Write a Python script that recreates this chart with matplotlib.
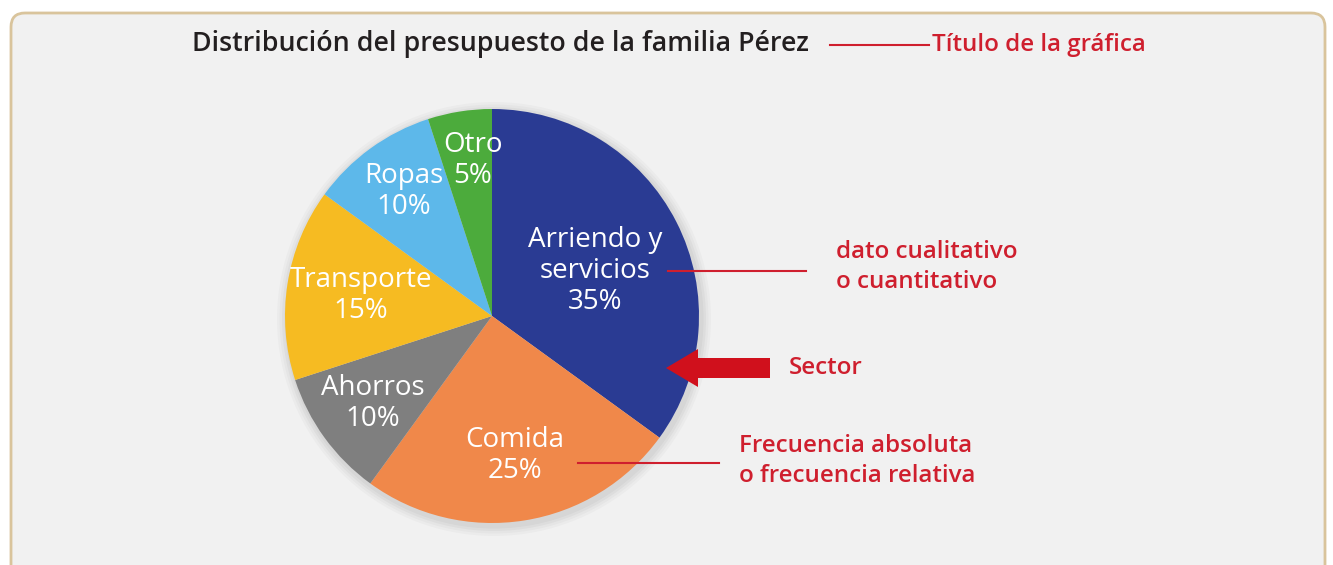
import matplotlib.pyplot as plt
from matplotlib.patches import FancyBboxPatch, FancyArrow, Circle

# presupuesto familiar (porcentajes)
categorias = ["Arriendo y\nservicios", "Comida", "Ahorros",
              "Transporte", "Ropas", "Otro"]
porcentajes = [35, 25, 10, 15, 10, 5]
colores = ["#2a3b93", "#f0884a", "#7f7f7f",
           "#f6bb22", "#5db8ea", "#4cab3c"]

titulo = "Distribución del presupuesto de la familia Pérez"

W, H = 1333, 565

plt.rcParams["font.family"] = ["Open Sans", "DejaVu Sans"]

fig = plt.figure(figsize=(W / 100, H / 100), dpi=100)
fig.patch.set_facecolor("white")
ax = fig.add_axes([0, 0, 1, 1])


def yy(y):
    # image-style y (top down) to axes y
    return H - y


def lines(x, y, text, step, **kw):
    # stacked lines with a fixed pixel step
    for i, t in enumerate(text.split("\n")):
        ax.text(x, yy(y + i * step), t, **kw)


# background panel
panel = FancyBboxPatch(
    (11, yy(600)),
    1314,
    600 - 13,
    boxstyle="round,pad=0,rounding_size=14",
    facecolor="#f1f1f1",
    edgecolor="#d9c49c",
    linewidth=2,
    zorder=0
)
ax.add_patch(panel)

cx, cy, r = 492, yy(316), 207

# soft shadow behind the pie
for i, a in enumerate([0.025, 0.025, 0.03, 0.03]):
    ax.add_patch(Circle((cx + 2, cy - 3), r + 10 - i * 2.5,
                        facecolor="black", alpha=a,
                        edgecolor="none", zorder=1))

ax.pie(
    porcentajes,
    colors=colores,
    startangle=90,
    counterclock=False,
    center=(cx, cy),
    radius=r,
    wedgeprops=dict(linewidth=0, zorder=2)
)

# label top line for each sector
label_pos = [(595, 240), (515, 440), (373, 388),
             (361, 280), (404, 176), (473, 145)]

for (x, y), nombre, p in zip(label_pos, categorias, porcentajes):
    lines(
        x, y,
        f"{nombre}\n{p}%",
        31,
        color="white",
        fontsize=20,
        ha="center",
        va="center",
        zorder=5
    )

ax.text(
    192, yy(44),
    titulo,
    fontsize=19.3,
    fontweight="semibold",
    color="#231f20",
    ha="left",
    va="center"
)

rojo = "#cf1f2e"
red_kw = dict(fontsize=17.4, fontweight="semibold", color=rojo,
              ha="left", va="center")

# callouts
ax.plot([830, 929], [yy(45), yy(45)], color=rojo, lw=1.5)
ax.text(932, yy(45), "Título de la gráfica", **red_kw)

ax.plot([668, 806], [yy(271), yy(271)], color=rojo, lw=1.5, zorder=6)
lines(836, 252, "dato cualitativo\no cuantitativo", 30, **red_kw)

ax.add_patch(FancyArrow(
    770, yy(368), -104, 0,
    width=20,
    head_width=38,
    head_length=32,
    length_includes_head=True,
    color="#d0101c",
    linewidth=0,
    zorder=6
))
ax.text(789, yy(368), "Sector", **red_kw)

ax.plot([578, 719], [yy(463), yy(463)], color=rojo, lw=1.5, zorder=6)
lines(739, 446, "Frecuencia absoluta\no frecuencia relativa", 30, **red_kw)

ax.set_xlim(0, W)
ax.set_ylim(0, H)
ax.set_aspect("auto")
ax.set_axis_off()

plt.savefig("out.png", dpi=100)
